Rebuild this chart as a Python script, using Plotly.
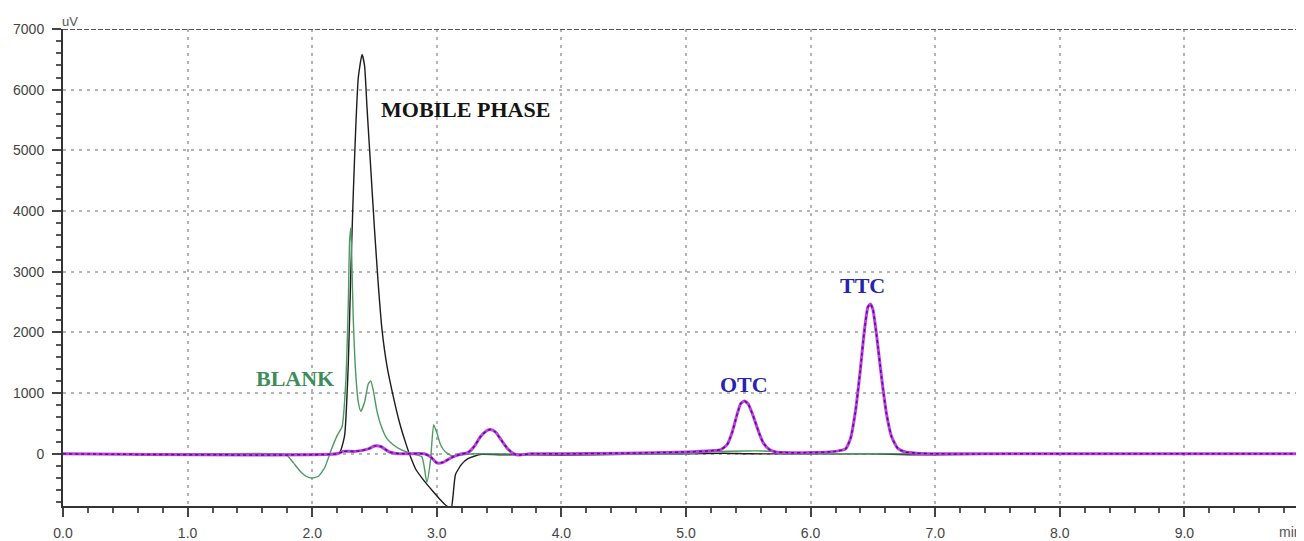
import plotly.graph_objects as go

# ---- data (time in min, signal in uV) ----
mobile_t = [0.0, 1.0, 1.5, 2.0, 2.15, 2.22, 2.26, 2.29, 2.31, 2.33, 2.35, 2.37, 2.40, 2.42, 2.44,
            2.47, 2.50, 2.53, 2.56, 2.60, 2.65, 2.70, 2.75, 2.78, 2.83, 2.90, 2.97, 3.03, 3.08,
            3.115, 3.13, 3.15, 3.20, 3.25, 3.30, 3.36, 3.5, 4.0, 4.5, 5.0, 5.3, 5.5, 6.0, 6.5,
            6.8, 7.0, 7.4, 7.5, 9.96]
mobile_v = [0, 0, -10, -10, 0, 20, 300, 1500, 3000, 4300, 5400, 6200, 6580, 6400, 5700,
            4700, 3700, 2800, 2050, 1450, 950, 520, 180, 0, -250, -450, -620, -760, -860,
            -900, -700, -340, -170, -80, -40, -10, -15, -20, -10, 0, 10, 0, 0, 0,
            -15, -15, -10, 0, 0]

blank_t = [0.0, 1.0, 1.75, 1.80, 1.85, 1.90, 1.95, 2.00, 2.05, 2.10, 2.15, 2.20, 2.24, 2.27,
           2.29, 2.30, 2.31, 2.32, 2.33, 2.35, 2.37, 2.39, 2.42, 2.45, 2.47, 2.49, 2.52, 2.56,
           2.60, 2.65, 2.72, 2.80, 2.88, 2.92, 2.95, 2.975, 3.00, 3.03, 3.07, 3.12, 3.2, 3.3,
           4.0, 5.0, 5.25, 5.7, 5.75, 6.0, 7.0, 9.96]
blank_v = [0, 0, 0, -30, -150, -280, -370, -400, -370, -230, 50, 300, 450, 1200,
           2500, 3500, 3720, 3000, 2200, 1300, 850, 700, 850, 1150, 1200, 1050, 700, 420,
           250, 150, 60, 0, -50, -470, -100, 480, 350, 150, 30, -30, -20, 0,
           -10, 0, 40, 40, 0, 0, 0, 0]

std_t = [0.0, 2.2, 2.25, 2.35, 2.45, 2.50, 2.55, 2.62, 2.70, 2.90, 2.95, 3.00, 3.05, 3.12,
         3.20, 3.25, 3.30, 3.35, 3.40, 3.43, 3.47, 3.52, 3.57, 3.62, 3.66, 3.75, 4.0, 4.5,
         5.0, 5.2, 5.28, 5.33, 5.37, 5.41, 5.44, 5.47, 5.50, 5.54, 5.58, 5.62, 5.67, 5.72,
         5.8, 6.0, 6.2, 6.28, 6.32, 6.36, 6.40, 6.43, 6.46, 6.48, 6.50, 6.53, 6.57, 6.61,
         6.65, 6.70, 6.76, 6.85, 7.0, 8.0, 9.96]
std_v = [0, 0, 40, 40, 80, 130, 120, 30, 0, 0, -50, -150, -140, -60,
         0, 20, 120, 280, 380, 400, 360, 220, 80, 0, -20, 0, 0, 10,
         30, 50, 70, 150, 350, 650, 830, 870, 820, 620, 380, 180, 70, 30,
         20, 20, 40, 80, 250, 700, 1400, 2000, 2420, 2470, 2380, 1950, 1250, 650,
         280, 90, 30, 10, 0, 0, 0]

x_ticks = [0, 1, 2, 3, 4, 5, 6, 7, 8, 9]
y_ticks = [0, 1000, 2000, 3000, 4000, 5000, 6000, 7000]

fig = go.Figure()
fig.add_trace(go.Scatter(x=mobile_t, y=mobile_v, mode="lines", name="MOBILE PHASE",
                         line=dict(color="#1c1c1c", width=1.4, shape="spline", smoothing=0.5)))
fig.add_trace(go.Scatter(x=blank_t, y=blank_v, mode="lines", name="BLANK",
                         line=dict(color="#4c9a62", width=1.4, shape="spline", smoothing=0.5)))
fig.add_trace(go.Scatter(x=std_t, y=std_v, mode="lines", name="STD",
                         line=dict(color="#cc3adc", width=3, shape="spline", smoothing=0.5)))
fig.add_trace(go.Scatter(x=std_t, y=std_v, mode="lines", name="SAMPLE",
                         line=dict(color="#2e1f9e", width=1.5, dash="3px,3px",
                                   shape="spline", smoothing=0.5)))

# dashed top frame
fig.add_shape(type="line", xref="paper", yref="y", x0=0, x1=1, y0=7000, y1=7000,
              line=dict(color="#555555", width=2, dash="5px,2px"))

ann_font = "Liberation Serif"
fig.add_annotation(x=3.23, y=5670, text="<b>MOBILE PHASE</b>", showarrow=False,
                   font=dict(family=ann_font, size=22, color="#141414"))
fig.add_annotation(x=1.86, y=1245, text="<b>BLANK</b>", showarrow=False,
                   font=dict(family=ann_font, size=22, color="#3e8c5c"))
fig.add_annotation(x=5.465, y=1150, text="<b>OTC</b>", showarrow=False,
                   font=dict(family=ann_font, size=22, color="#2424b0"))
fig.add_annotation(x=6.42, y=2770, text="<b>TTC</b>", showarrow=False,
                   font=dict(family=ann_font, size=22, color="#2424b0"))
fig.add_annotation(x=0, y=1, xref="paper", yref="paper", xanchor="left", yanchor="bottom",
                   text="uV", showarrow=False, xshift=-3, yshift=-2,
                   font=dict(family="Liberation Sans", size=13, color="#555555"))
fig.add_annotation(x=1, y=0, xref="paper", yref="paper", xanchor="right", yanchor="top",
                   text="min", showarrow=False, yshift=-16,
                   font=dict(family="Liberation Sans", size=14, color="#555555"))

grid = dict(showgrid=True, gridcolor="#b4b4b4", gridwidth=1.5, griddash="3px,5px")
tickfont = dict(family="Liberation Sans", size=14, color="#444444")
fig.update_xaxes(range=[0, 9.96], tickvals=x_ticks, tickformat=".1f", ticks="outside",
                 ticklen=9, tickwidth=1.5, tickcolor="#444", showline=True, linecolor="#333",
                 linewidth=2, zeroline=False, ticklabelstandoff=4,
                 minor=dict(dtick=0.2, tick0=0, ticks="outside", ticklen=5, tickcolor="#555",
                            showgrid=False),
                 tickfont=tickfont, **grid)
fig.update_yaxes(range=[-860, 7000], tickvals=y_ticks, ticks="outside", ticklen=9,
                 tickwidth=1.5, tickcolor="#444", showline=True, linecolor="#333", linewidth=2,
                 zeroline=False, ticklabelstandoff=5,
                 minor=dict(dtick=200, tick0=0, ticks="outside", ticklen=5, tickcolor="#555",
                            showgrid=False),
                 tickfont=tickfont, **grid)

# page body has an 8px margin, so the figure is sized to fit inside the window
fig.update_layout(width=1296, height=533, margin=dict(l=55, r=0, t=21, b=33),
                  plot_bgcolor="white", paper_bgcolor="white", showlegend=False)

fig.write_html("out.html")
